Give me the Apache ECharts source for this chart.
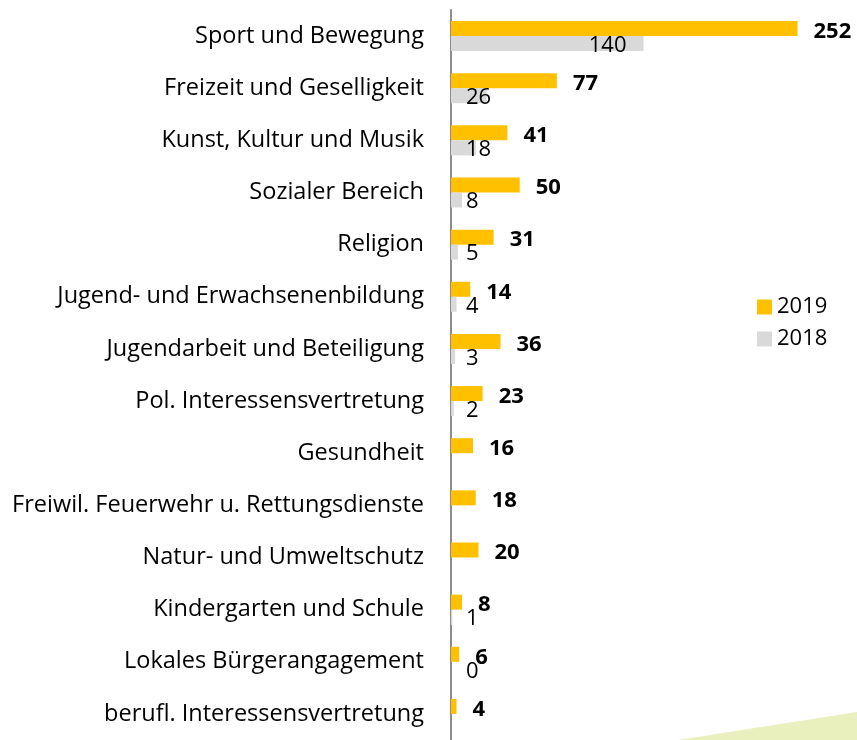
<!DOCTYPE html>
<html>
<head>
<meta charset="utf-8">
<script src="https://cdn.jsdelivr.net/npm/echarts@6/dist/echarts.min.js"></script>
<style>
html, body { margin: 0; padding: 0; background: #fff; }
#chart { width: 857px; height: 740px; }
</style>
</head>
<body>
<div id="chart"></div>
<script>
var categories = ['Sport und Bewegung', 'Freizeit und Geselligkeit', 'Kunst, Kultur und Musik',
    'Sozialer Bereich', 'Religion', 'Jugend- und Erwachsenenbildung', 'Jugendarbeit und Beteiligung',
    'Pol. Interessensvertretung', 'Gesundheit', 'Freiwil. Feuerwehr u. Rettungsdienste',
    'Natur- und Umweltschutz', 'Kindergarten und Schule', 'Lokales Bürgerangagement',
    'berufl. Interessensvertretung'];
var values2019 = [252, 77, 41, 50, 31, 14, 36, 23, 16, 18, 20, 8, 6, 4];
var values2018 = [140, 26, 18, 8, 5, 4, 3, 2, null, null, null, 1, 0, null];

var font = 'Open Sans';

var dom = document.getElementById('chart');
var myChart = echarts.init(dom);

// long grey bars get their label inside the bar end, short ones right of the axis
var data2018 = values2018.map(function (v) {
    if (v === null) return '-';
    if (v > 100) {
        return {value: v, label: {position: 'insideRight', distance: 17}};
    }
    return v;
});

var option = {
    animation: false,
    textStyle: {fontFamily: font},
    grid: {left: 451, top: 10, height: 734, right: 21},
    legend: {
        orient: 'vertical',
        left: 752,
        top: 291,
        itemWidth: 15,
        itemHeight: 15,
        itemGap: 10,
        icon: 'rect',
        data: ['2019', '2018'],
        textStyle: {fontSize: 22, color: '#000', fontFamily: font}
    },
    xAxis: {
        type: 'value',
        min: 0,
        max: 280,
        show: false
    },
    yAxis: {
        type: 'category',
        inverse: true,
        data: categories,
        axisLine: {show: true, lineStyle: {color: '#8c8c8c', width: 2}},
        axisTick: {show: false},
        axisLabel: {fontSize: 23.5, color: '#000', margin: 27, fontFamily: font, padding: [5, 0, 0, 0]}
    },
    series: [
        {
            name: '2019',
            type: 'bar',
            barWidth: 15,
            barGap: '0%',
            itemStyle: {color: '#FFC000'},
            label: {
                show: true,
                position: 'right',
                distance: 16,
                offset: [0, 3],
                fontSize: 22,
                fontWeight: 'bold',
                color: '#000',
                fontFamily: font
            },
            data: values2019
        },
        {
            name: '2018',
            type: 'bar',
            barWidth: 15,
            itemStyle: {color: '#D9D9D9'},
            label: {
                show: true,
                position: 'insideLeft',
                distance: 15,
                offset: [0, 2],
                fontSize: 22,
                color: '#000',
                fontFamily: font
            },
            data: data2018
        }
    ],
    graphic: [{
        type: 'polygon',
        silent: true,
        shape: {points: [[678, 740], [857, 712], [857, 740]]},
        style: {fill: '#EAEFBE'}
    }]
};
myChart.setOption(option, true);

window.onresize = function () {
    myChart.resize();
};
</script>
</body>
</html>
